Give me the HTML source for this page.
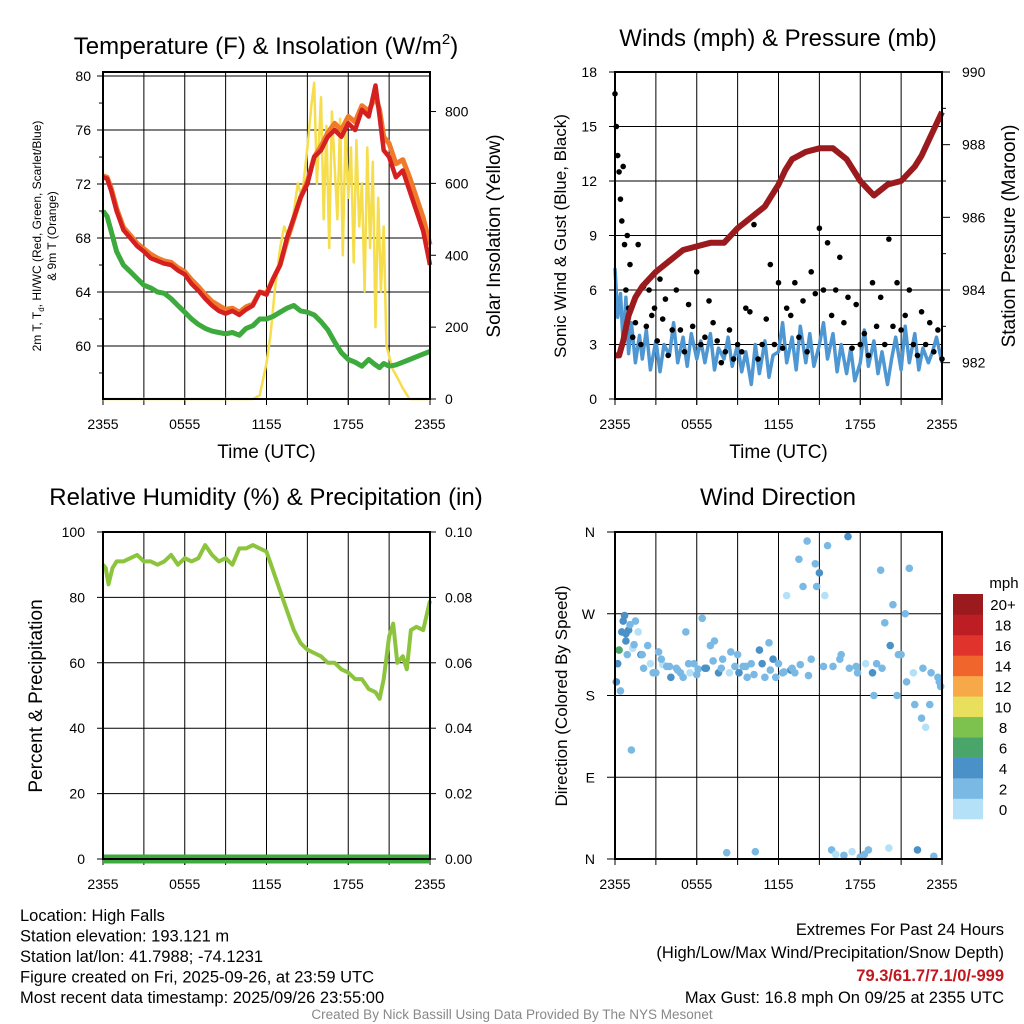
<!DOCTYPE html>
<html><head><meta charset="utf-8"><style>
html,body{margin:0;padding:0;background:#fff}
svg{display:block;font-family:"Liberation Sans",sans-serif}
</style></head><body>
<svg id="c" width="1024" height="1024" xmlns="http://www.w3.org/2000/svg"></svg>
<script>
// ---- data ----
const tempHours=[0,0.3,0.6,1,1.5,2,2.5,3,3.5,4,4.5,5,5.5,6,6.5,7,7.5,8,8.5,9,9.5,10,10.5,11,11.5,12,12.5,13,13.5,14,14.5,15,15.5,16,16.5,17,17.5,18,18.5,19,19.5,20,20.3,20.6,21,21.5,22,22.5,23,23.5,24];
const tempF=[72.5,72.4,71.5,70,68.6,68,67.4,67,66.5,66.3,66.1,66,65.6,65.3,64.6,64.1,63.5,63,62.6,62.4,62.6,62.3,62.7,63,64,63.8,65,66,68,69.5,71,72,74,74.5,75.5,76,75.5,76.5,76,77.5,77,79.3,77,74.5,74,72.5,73,71.5,70,68.5,66];
const temp9m=[72.6,72.5,71.7,70.2,68.8,68.2,67.6,67.2,66.8,66.5,66.3,66.2,65.8,65.5,64.9,64.4,63.8,63.3,63,62.7,62.8,62.5,62.9,63.1,64,63.9,65,66,67.8,69.4,71,72.2,74,74.8,75.8,76.5,76,77,76.6,77.8,77.4,78.5,77.5,75.5,75,73.5,73.8,72.5,71,69.5,67.5];
const dewF=[70,69.6,68.5,67,66,65.5,65,64.5,64.3,64,63.9,63.5,63,62.5,62,61.6,61.3,61.1,61,60.9,61,60.8,61.3,61.5,62,62,62.2,62.5,62.8,63,62.6,62.5,62.3,61.8,61.2,60.3,59.5,59,58.8,58.5,59,58.6,58.4,58.7,58.5,58.6,58.8,59,59.2,59.4,59.6];
const solarHours=[0,11,11.5,12,12.3,12.6,13,13.3,13.6,14,14.3,14.6,15,15.3,15.5,15.7,16,16.2,16.4,16.6,16.8,17,17.2,17.4,17.6,17.8,18,18.2,18.4,18.6,18.8,19,19.2,19.4,19.6,19.8,20,20.2,20.4,20.6,20.8,21,21.3,21.6,22,22.5,24];
const solarW=[0,0,10,100,180,300,420,480,450,520,600,560,700,820,880,600,840,500,760,420,800,650,500,780,400,740,560,700,380,720,480,600,300,700,420,660,200,560,300,480,150,120,80,60,30,0,0];
const windHours=[0,0.2,0.4,0.6,0.8,1,1.2,1.5,1.8,2,2.3,2.6,3,3.3,3.6,4,4.3,4.6,5,5.3,5.6,6,6.3,6.6,7,7.3,7.6,8,8.3,8.6,9,9.3,9.6,10,10.3,10.6,11,11.3,11.6,12,12.3,12.6,13,13.3,13.6,14,14.3,14.6,15,15.3,15.6,16,16.3,16.6,17,17.3,17.6,18,18.3,18.6,19,19.3,19.6,20,20.3,20.6,21,21.3,21.6,22,22.3,22.6,23,23.3,23.6,24];
const windMph=[7.2,4.5,5.8,3,5.6,2.5,4.2,2,3.5,2.2,3.8,1.6,3.2,1.5,3,2.4,4.2,2,3.4,1.8,3.6,2.2,3.2,2,3.6,1.6,2.8,2.2,3.4,1.8,3,1.5,2.6,0.8,3,1.4,3.2,1.2,2.4,2.6,4.2,2,3.4,1.6,4,2,3.6,1.8,3,4.2,2.2,3.6,1.5,3,1.4,2.8,1,2,3.8,1.8,3.2,1.4,2.6,0.8,2.2,3.4,1.6,4,2,3.6,1.6,2.8,2,2.6,3.4,2,2.4];
const gustHours=[0,0.1,0.2,0.3,0.4,0.5,0.6,0.7,0.8,0.9,1,1.1,1.3,1.5,1.7,1.9,2.1,2.3,2.5,2.7,2.9,3.1,3.3,3.5,3.7,3.9,4.2,4.5,4.8,5.1,5.4,5.7,6,6.3,6.6,6.9,7.2,7.5,7.8,8.1,8.4,8.7,9,9.3,9.6,9.9,10.2,10.5,10.8,11.1,11.4,11.7,12,12.3,12.6,12.9,13.2,13.5,13.8,14.1,14.4,14.7,15,15.3,15.6,15.9,16.2,16.5,16.8,17.1,17.4,17.7,18,18.3,18.6,18.9,19.2,19.5,19.8,20.1,20.4,20.7,21,21.3,21.6,21.9,22.2,22.5,22.8,23.1,23.4,23.7,24];
const gustMph=[16.8,15,13.4,12.5,11,9.8,12.8,8.5,6,9,5,7.4,3.4,4.2,8.5,3,6.2,4,6,4.6,5,3.2,6.6,4.4,5.5,2.4,3.8,6,3.8,2.6,5.2,4,7,3,3.4,5.4,4.2,3.2,2,2.6,3.8,2.2,3,2.6,5,4.8,9.6,2.2,3,4.4,7.4,3,6.4,2.8,5,4.6,6.4,3.4,5.4,2.6,7,5.8,9.4,6,8.6,4.6,6,7.8,4.2,5.6,2.8,5.2,3,3.6,2.4,6.4,4,5.6,3,8.8,4,6.4,3.8,4.6,6,3,2.4,4.8,3,4.2,2.6,3.8,2.2];
const presHours=[0,0.3,0.6,1,1.5,2,2.5,3,4,5,6,7,8,9,10,11,12,12.5,13,14,15,16,17,18,18.5,19,20,21,22,22.5,23,23.5,24];
const presMb=[982.2,982.2,982.6,983.3,983.8,984.1,984.3,984.5,984.8,985.1,985.2,985.3,985.3,985.7,986,986.3,986.9,987.3,987.6,987.8,987.9,987.9,987.6,987,986.8,986.6,986.9,987,987.4,987.7,988.1,988.5,988.9];
const rhHours=[0,0.2,0.4,0.7,1,1.5,2,2.5,3,3.5,4,4.5,5,5.5,6,6.5,7,7.5,8,8.5,9,9.5,10,10.5,11,11.5,12,12.5,13,13.5,14,14.5,15,15.5,16,16.5,17,17.5,18,18.5,19,19.5,20,20.3,20.6,21,21.3,21.6,22,22.3,22.6,23,23.5,24];
const rhPct=[90,89,84,89,91,91,92,93,91,91,90,91,93,90,92,91,92,96,93,91,92,90,95,95,96,95,94,88,82,76,70,66,64,63,62,60,60,58,57,55,55,52,51,49,55,68,72,60,62,58,70,71,70,79];
const precipHours=[0,24];
const precipIn=[0,0];
const dirHours=[0.1,0.2,0.3,0.5,0.6,0.7,0.8,0.9,1,1.1,1.2,1.3,1.5,1.7,1.9,2.1,2.4,2.8,3.2,3.5,3.8,4.1,4.5,4.8,5.2,5.5,5.8,6.1,6.4,6.7,7,7.3,7.6,7.9,8.2,8.5,8.8,9.1,9.4,9.7,10,10.3,10.6,11,11.3,11.6,12,12.3,12.6,12.9,13.2,13.5,13.8,14.1,14.4,14.7,15,15.3,15.6,15.9,16.2,16.5,16.8,17.1,17.4,17.7,18,18.3,18.6,18.9,19.2,19.5,19.8,20.1,20.4,20.7,21,21.3,21.6,21.9,22.2,22.5,22.8,23.1,23.4,23.7,23.9,
 0.4,0.8,1.4,2.0,2.6,3.0,3.4,4.0,4.6,5.0,5.4,6.0,6.6,7.2,7.8,8.4,9.0,9.6,10.2,10.8,11.4,11.8,12.4,13.0,13.6,14.2,14.8,15.4,16.0,16.6,17.2,17.8,18.4,19.0,19.6,20.2,20.8,21.4,22.0,22.6,23.2,23.8];
const dirSpd=[4,5,7,4,5,5,4,3,4,3,2,1,2,1,4,3,3,3,2,1,3,4,3,2,3,1,3,2,2,4,3,3,4,2,3,3,2,4,3,2,3,3,4,2,3,4,2,3,1,4,3,2,3,2,3,2,4,3,2,3,1,2,3,4,1,2,3,3,2,4,3,2,2,1,3,2,3,3,2,1,4,2,1,3,2,3,2,
 3,4,2,3,1,2,3,3,2,3,2,3,4,2,3,1,3,2,3,4,3,2,3,2,3,2,3,1,3,2,3,2,1,3,2,4,3,2,3,2,3,3];
const dirDeg=[195,215,230,250,262,268,240,225,252,258,120,232,262,250,225,210,235,205,228,214,212,200,210,205,250,205,215,209,265,210,235,240,205,220,7,228,212,205,212,200,215,8,230,200,238,220,215,205,290,208,205,330,300,350,220,325,315,212,345,10,5,220,4,355,8,212,2,5,10,205,215,318,260,12,280,180,225,270,320,205,10,155,145,170,3,200,190,185,
 248,236,225,215,205,220,212,208,200,215,203,210,218,210,205,225,212,203,215,208,200,206,210,214,202,300,290,212,225,210,205,215,180,210,235,225,195,170,210,205,195,205];
const cbLabels=["0","2","4","6","8","10","12","14","16","18","20+"];
const cbColors=["#b5e1f8","#7ab9e4","#4a91c8","#4aa56a","#7dc24f","#e8df5c","#f7a849","#ef652c","#e0332b","#bd1e24","#9b1a1d"];
const tempTicks=[60,64,68,72,76,80];
const solarTicks=[0,200,400,600,800];
const windTicks=[0,3,6,9,12,15,18];
const presTicks=[982,984,986,988,990];
const rhTicks=[0,20,40,60,80,100];
const prTicks=["0.00","0.02","0.04","0.06","0.08","0.10"];
const dirLabels=["N","E","S","W","N"];
const xLabels=["2355","0555","1155","1755","2355"];

const NS="http://www.w3.org/2000/svg";
const svg=document.getElementById('c');
function el(tag,attrs,parent,name,inter){const e=document.createElementNS(NS,tag);for(const k in attrs)e.setAttribute(k,attrs[k]);(parent||svg).appendChild(e);


return e;}
function txt(x,y,s,size,anchor,parent,name,extra){const t=el('text',Object.assign({x:x,y:y,'font-size':size,'text-anchor':anchor||'middle',fill:'#000'},extra||{}),parent,name);t.textContent=s;return t;}
function lin(d0,d1,p0,p1){return v=>p0+(v-d0)*(p1-p0)/(d1-d0);}

function frame(L,R,T,B,name){
  const g=el('g',{},svg,name);
  const xs=lin(0,24,L,R);
  for(let h=3;h<24;h+=3){el('line',{x1:xs(h),x2:xs(h),y1:T,y2:B,stroke:'#000','stroke-width':1},g,'v-gridline');el('line',{x1:xs(h),x2:xs(h),y1:B,y2:B+6,stroke:'#000'},g,'x-tick');}
  for(let i=0;i<5;i++){el('line',{x1:xs(i*6),x2:xs(i*6),y1:B,y2:B+6,stroke:'#000'},g,'x-tick');txt(xs(i*6),B+30,xLabels[i],14,'middle',g,'x-tick-label');}
  return {g,xs};
}
function axisBox(L,R,T,B,g){el('rect',{x:L,y:T,width:R-L,height:B-T,fill:'none',stroke:'#000','stroke-width':2},g,'plot-border');}
function path(pts,attrs,g,name){let d='';pts.forEach((p,i)=>{d+=(i?'L':'M')+p[0].toFixed(1)+','+p[1].toFixed(1);});return el('path',Object.assign({d:d,fill:'none','stroke-linejoin':'round'},attrs),g,name);}

// ===== Panel 1 =====
{
 const L=103,R=430,T=72,B=399;
 const {g,xs}=frame(L,R,T,B,'temperature-panel');
 const ys=lin(56.07,80.3,B,T), ysol=lin(0,910,B,T);
 tempTicks.forEach(v=>{el('line',{x1:L-6,x2:R,y1:ys(v),y2:ys(v),stroke:'#000'},g,'h-gridline');txt(L-12,ys(v)+5,String(v),14,'end',g,'temp-tick-label');});
 [58,62,66,70,74,78].forEach(v=>el('line',{x1:L-4,x2:L,y1:ys(v),y2:ys(v),stroke:'#000'},g,'minor-tick'));
 solarTicks.forEach(v=>{el('line',{x1:R,x2:R+6,y1:ysol(v),y2:ysol(v),stroke:'#000'},g,'solar-tick');txt(R+15,ysol(v)+5,String(v),14,'start',g,'solar-tick-label');});
 path(solarHours.map((h,i)=>[xs(h),ysol(solarW[i])]),{stroke:'#f5dd4b','stroke-width':2.5},g,'solar-line');
 path(tempHours.map((h,i)=>[xs(h),ys(dewF[i])]),{stroke:'#3daa3d','stroke-width':5},g,'dewpoint-line');
 path(tempHours.map((h,i)=>[xs(h),ys(temp9m[i])]),{stroke:'#f07a2a','stroke-width':5},g,'temp-9m-line');
 path(tempHours.map((h,i)=>[xs(h),ys(tempF[i])]),{stroke:'#d42020','stroke-width':4.5},g,'temp-2m-line');
 axisBox(L,R,T,B,g);
 txt(266,54,'',24,'middle',g,'panel-title').innerHTML='Temperature (F) &amp; Insolation (W/m<tspan font-size="15" dy="-10">2</tspan><tspan dy="10">)</tspan>';
 txt((L+R)/2,458,'Time (UTC)',19,'middle',g,'x-axis-title');
 const t1=txt(0,0,'',12,'middle',g,'y-axis-title-left');t1.setAttribute('transform','translate(41,236) rotate(-90)');
 t1.innerHTML='2m T, T<tspan font-size="8" dy="3">d</tspan><tspan dy="-3">, HI/WC (Red, Green, Scarlet/Blue)</tspan>';
 const t1b=txt(0,0,'& 9m T (Orange)',12,'middle',g,'y-axis-title-left-2');t1b.setAttribute('transform','translate(56,236) rotate(-90)');
 const t2=txt(0,0,'Solar Insolation (Yellow)',19,'middle',g,'y-axis-title-right');t2.setAttribute('transform','translate(500,236) rotate(-90)');
}
// ===== Panel 2 =====
{
 const L=615,R=942,T=72,B=399;
 const {g,xs}=frame(L,R,T,B,'wind-pressure-panel');
 const ys=lin(0,18,B,T), yp=lin(981.0,990,B,T);
 windTicks.forEach(v=>{el('line',{x1:L-6,x2:R,y1:ys(v),y2:ys(v),stroke:'#000'},g,'h-gridline');txt(L-18,ys(v)+5,String(v),14,'end',g,'wind-tick-label');});
 presTicks.forEach(v=>{el('line',{x1:R,x2:R+8,y1:yp(v),y2:yp(v),stroke:'#000'},g,'pressure-tick');txt(R+20,yp(v)+5,String(v),14,'start',g,'pressure-tick-label');});
 [983,985,987,989].forEach(v=>el('line',{x1:R,x2:R+4,y1:yp(v),y2:yp(v),stroke:'#000'},g,'minor-tick'));
 path(windHours.map((h,i)=>[xs(h),ys(windMph[i])]),{stroke:'#4f97d2','stroke-width':3.5},g,'sonic-wind-line');
 gustHours.forEach((h,i)=>el('circle',{cx:xs(h),cy:ys(gustMph[i]),r:2.8,fill:'#000'},g,'gust-dot'));
 path(presHours.map((h,i)=>[xs(h),yp(presMb[i])]),{stroke:'#9b1a1d','stroke-width':6},g,'pressure-line');
 axisBox(L,R,T,B,g);
 txt(778,46,'Winds (mph) & Pressure (mb)',24,'middle',g,'panel-title');
 txt((L+R)/2,458,'Time (UTC)',19,'middle',g,'x-axis-title');
 const t1=txt(0,0,'Sonic Wind & Gust (Blue, Black)',17,'middle',g,'y-axis-title-left');t1.setAttribute('transform','translate(566,236) rotate(-90)');
 const t2=txt(0,0,'Station Pressure (Maroon)',19,'middle',g,'y-axis-title-right');t2.setAttribute('transform','translate(1015,236) rotate(-90)');
}
// ===== Panel 3 =====
{
 const L=103,R=430,T=532,B=859;
 const {g,xs}=frame(L,R,T,B,'humidity-panel');
 const ys=lin(0,100,B,T), ypr=lin(0,0.1,B,T);
 rhTicks.forEach(v=>{el('line',{x1:L-6,x2:R,y1:ys(v),y2:ys(v),stroke:'#000'},g,'h-gridline');txt(L-18,ys(v)+5,String(v),14,'end',g,'rh-tick-label');});
 prTicks.forEach((s,i)=>{el('line',{x1:R,x2:R+6,y1:ypr(i*0.02),y2:ypr(i*0.02),stroke:'#000'},g,'precip-tick');txt(R+15,ypr(i*0.02)+5,s,14,'start',g,'precip-tick-label');});
 path(rhHours.map((h,i)=>[xs(h),ys(rhPct[i])]),{stroke:'#8cc43e','stroke-width':4},g,'rh-line');
 path(precipHours.map((h,i)=>[xs(h),ypr(precipIn[i])]),{stroke:'#3daa3d','stroke-width':9},g,'precip-line');
 axisBox(L,R,T,B,g);
 txt(266,505,'Relative Humidity (%) & Precipitation (in)',24,'middle',g,'panel-title');
 const t1=txt(0,0,'Percent & Precipitation',19,'middle',g,'y-axis-title-left');t1.setAttribute('transform','translate(42,696) rotate(-90)');
}
// ===== Panel 4 =====
{
 const L=615,R=942,T=532,B=859;
 const {g,xs}=frame(L,R,T,B,'wind-direction-panel');
 const ys=lin(0,360,B,T);
 dirLabels.forEach((s,i)=>{const v=i*90;el('line',{x1:L-8,x2:R,y1:ys(v),y2:ys(v),stroke:'#000'},g,'h-gridline');txt(L-20,ys(v)+5,s,14,'end',g,'direction-tick-label');});
 dirHours.forEach((h,i)=>el('circle',{cx:xs(h),cy:ys(dirDeg[i]),r:3.8,fill:cbColors[Math.min(10,Math.floor(dirSpd[i]/2))]},g,'direction-dot'));
 axisBox(L,R,T,B,g);
 txt(778,505,'Wind Direction',24,'middle',g,'panel-title');
 const t1=txt(0,0,'Direction (Colored By Speed)',17,'middle',g,'y-axis-title-left');t1.setAttribute('transform','translate(567,696) rotate(-90)');
 const cb=el('g',{},svg,'speed-colorbar');
 const h=225/11;
 cbColors.forEach((c,i)=>{el('rect',{x:953,y:819-(i+1)*h,width:30,height:h+0.3,fill:c},cb,'colorbar-box');txt(1003,819-(i+0.5)*h+6,cbLabels[i],15,'middle',cb,'colorbar-label');});
 txt(1004,588,'mph',15,'middle',cb,'colorbar-title');
}
// ===== footer =====
{
 const g=el('g',{},svg,'footer');
 const left=['Location: High Falls','Station elevation: 193.121 m','Station lat/lon: 41.7988; -74.1231','Figure created on Fri, 2025-09-26, at 23:59 UTC','Most recent data timestamp: 2025/09/26 23:55:00'];
 left.forEach((s,i)=>txt(20,921+i*20.5,s,16.5,'start',g,'station-info-line'));
 txt(1004,935,'Extremes For Past 24 Hours',16.5,'end',g,'extremes-title');
 txt(1004,958,'(High/Low/Max Wind/Precipitation/Snow Depth)',16.5,'end',g,'extremes-subtitle');
 txt(1004,981,'79.3/61.7/7.1/0/-999',16.5,'end',g,'extremes-values',{fill:'#c0181e','font-weight':'bold'});
 txt(1004,1003,'Max Gust: 16.8 mph On 09/25 at 2355 UTC',16.5,'end',g,'max-gust');
 txt(512,1019,'Created By Nick Bassill Using Data Provided By The NYS Mesonet',13.5,'middle',g,'credit',{fill:'#888'});
}
</script>
</body></html>
